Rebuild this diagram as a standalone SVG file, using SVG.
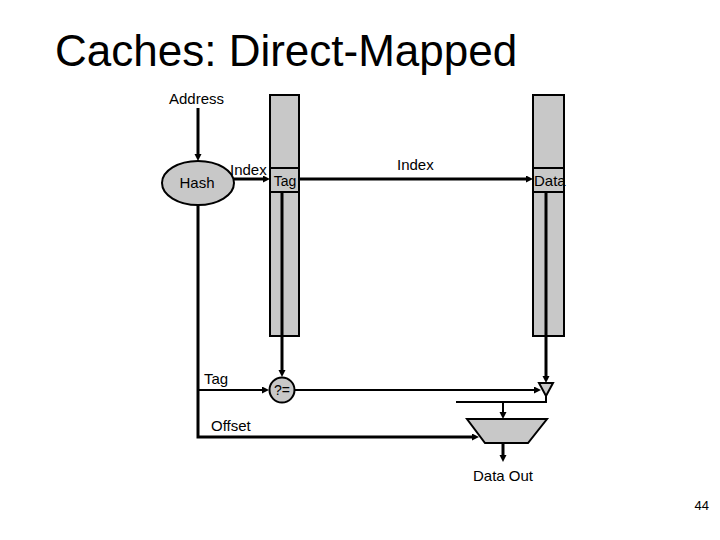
<svg xmlns="http://www.w3.org/2000/svg" width="720" height="540" viewBox="0 0 720 540">
<style>
text{font-family:"Liberation Sans",Arial,sans-serif;fill:#000}
.lbl{font-size:15px}
.mem{fill:#C8C8C8;stroke:#000;stroke-width:2}
.shape{fill:#C8C8C8;stroke:#000;stroke-width:2}
.thick{fill:none;stroke:#000;stroke-width:3}
.thin{fill:none;stroke:#000;stroke-width:2}
</style>
<defs>
<marker id="arr" markerUnits="userSpaceOnUse" markerWidth="8" markerHeight="8" refX="0" refY="3.5" orient="auto">
<path d="M0,0 L7,3.5 L0,7 z" fill="#000"/>
</marker>
</defs>
<rect width="720" height="540" fill="#fff"/>
<text x="55" y="66" font-size="44">Caches: Direct-Mapped</text>
<text x="709" y="510" font-size="13" text-anchor="end">44</text>

<g id="address"><text class="lbl" x="169" y="104">Address</text></g>

<g id="tag-array">
<rect class="mem" x="270" y="95" width="29" height="241"/>
<rect class="mem" x="270" y="168" width="29" height="24"/>
<text x="285" y="186" font-size="14" text-anchor="middle">Tag</text>
</g>

<g id="data-array">
<rect class="mem" x="533" y="95" width="31" height="241"/>
<rect class="mem" x="533" y="168" width="31" height="24"/>
<text x="534" y="186" font-size="15">Data</text>
</g>

<g id="hash">
<ellipse class="shape" cx="198" cy="183" rx="36" ry="22"/>
<text class="lbl" x="197" y="188" text-anchor="middle">Hash</text>
</g>

<g id="compare">
<circle class="shape" cx="282" cy="390" r="12.5"/>
<text x="282" y="395" font-size="14" text-anchor="middle">?=</text>
</g>

<g id="buffer">
<polygon class="shape" points="539,383 553,383 546,396"/>
</g>

<g id="mux">
<polygon class="shape" points="467,419 547,419 528,443 485,443"/>
</g>

<g id="connectors">
<line class="thick" x1="198" y1="108" x2="198" y2="154" marker-end="url(#arr)"/>
<line class="thick" x1="234" y1="179" x2="263" y2="179" marker-end="url(#arr)"/>
<line class="thick" x1="299" y1="179" x2="526" y2="179" marker-end="url(#arr)"/>
<line class="thick" x1="282" y1="192" x2="282" y2="370" marker-end="url(#arr)"/>
<line class="thick" x1="546" y1="192" x2="546" y2="376" marker-end="url(#arr)"/>
<polyline class="thick" points="198,205 198,437 472,437" marker-end="url(#arr)"/>
<line class="thin" x1="198" y1="390" x2="262" y2="390" marker-end="url(#arr)"/>
<line class="thin" x1="294.5" y1="390" x2="534" y2="390" marker-end="url(#arr)"/>
<polyline class="thin" points="546,396 546,402 456,402"/>
<line class="thin" x1="503" y1="402" x2="503" y2="412" marker-end="url(#arr)"/>
<line class="thick" x1="503" y1="443" x2="503" y2="455" marker-end="url(#arr)"/>
</g>

<g id="labels">
<text class="lbl" x="230" y="175">Index</text>
<text class="lbl" x="397" y="170">Index</text>
<text class="lbl" x="204" y="384">Tag</text>
<text class="lbl" x="211" y="431">Offset</text>
<text class="lbl" x="473" y="481">Data Out</text>
</g>
</svg>
